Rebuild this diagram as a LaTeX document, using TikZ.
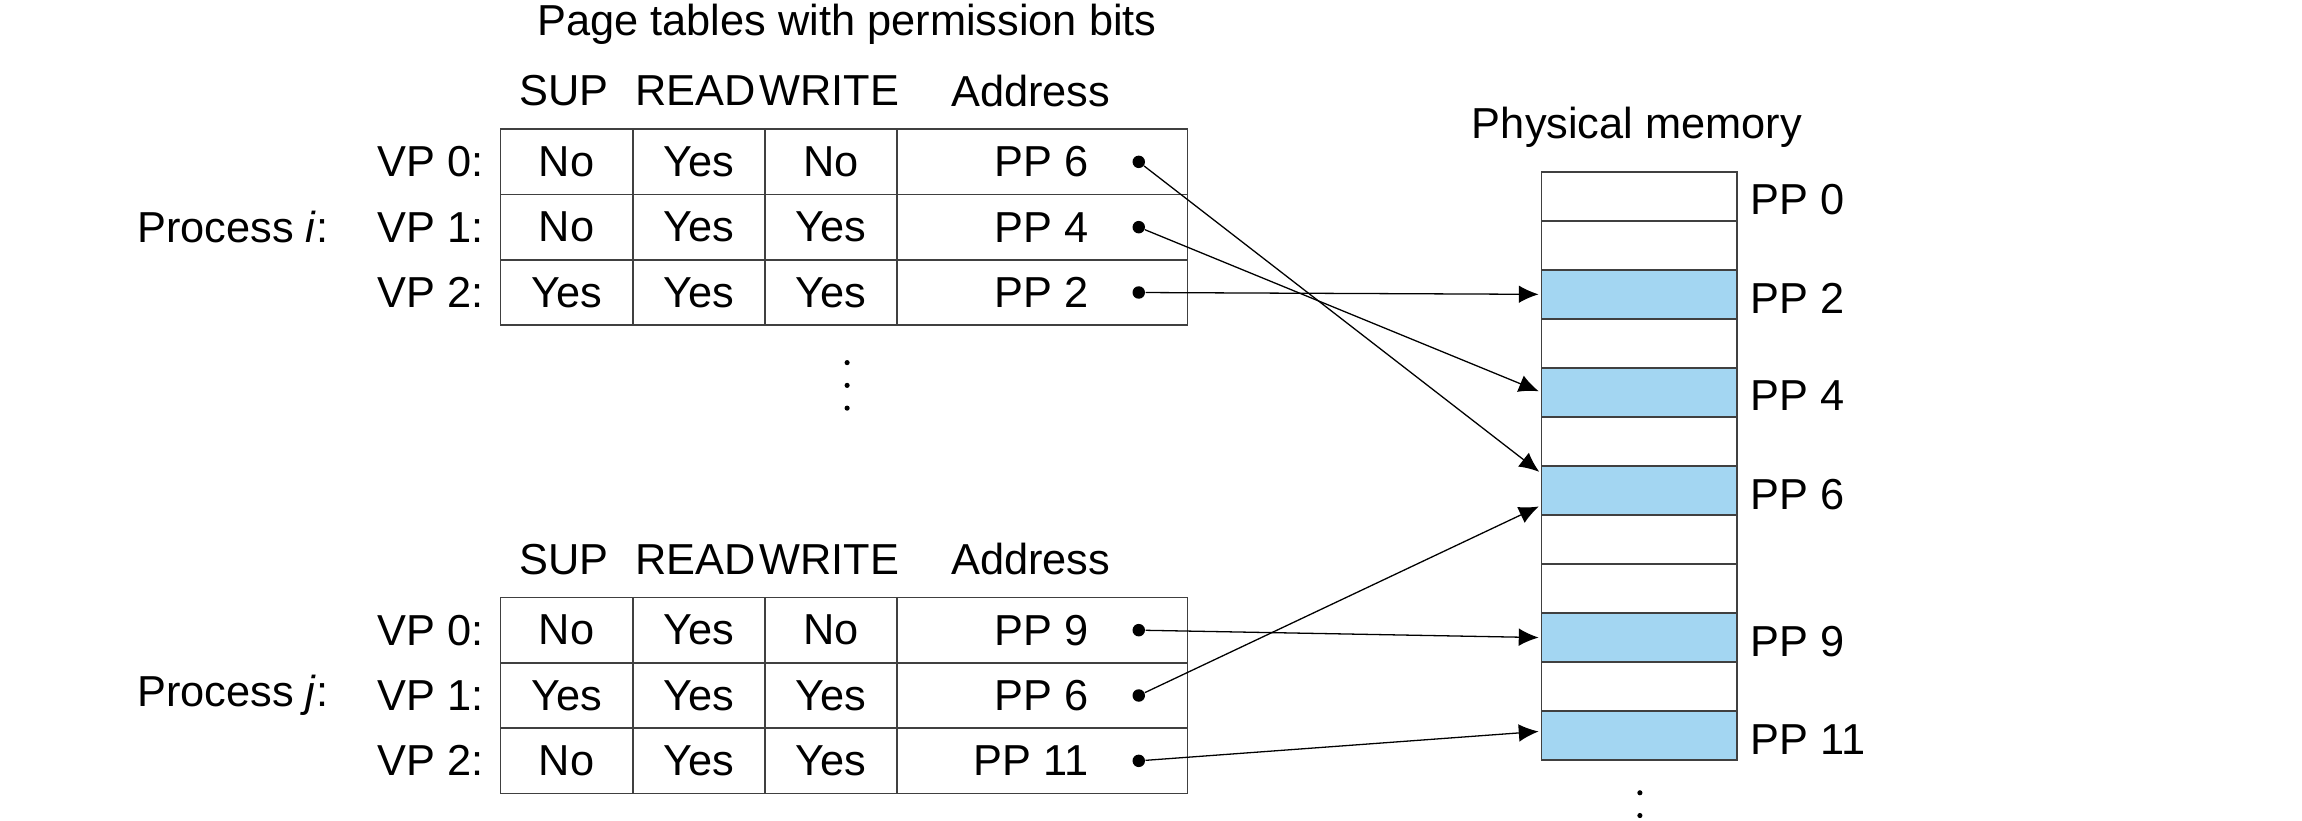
\documentclass[tikz,border=0pt]{standalone}
\usepackage{fontspec}
\setmainfont{Liberation Sans}
\usetikzlibrary{positioning}
\usetikzlibrary{arrows.meta}
\usetikzlibrary{calc}
\definecolor{pageblue}{RGB}{163,214,242}

\begin{document}
\begin{tikzpicture}
        \tikzset{
          >={Latex[length=0.27cm,width=0.24cm]},
          font=\fontsize{16.8pt}{20pt}\selectfont,
          node distance=0pt,
          txt/.style={inner sep=0pt},
          cell/.style={
            draw=black!75,
            line width=0.6pt,
            minimum height=0.89cm,
            inner sep=0pt,
            outer sep=0pt,
          },
          flag/.style={cell, minimum width=1.8cm},
          addr/.style={cell, minimum width=3.96cm},
          frame/.style={
            draw=black!75,
            line width=0.6pt,
            minimum width=2.66cm,
            minimum height=0.668cm,
            inner sep=0pt,
            outer sep=0pt,
          },
          used/.style={frame, fill=pageblue},
          dot/.style={circle, fill=black, inner sep=0pt, minimum size=0.17cm},
          gap/.style={circle, fill=black, inner sep=0pt, minimum size=0.07cm},
          map/.style={->, line width=0.5pt, shorten >=0.04cm},
        }
        \useasboundingbox (0,0) rectangle (31.36,11.18);

        \node[txt] (title) at (11.54,10.85) {Page tables with permission bits};

        % process i
        \node[txt] (hi1) at (7.68,9.94) {SUP};
        \node[txt] (hi2) at (9.48,9.94) {READ};
        \node[txt] (hi3) at (11.30,9.94) {WRITE};
        \node[txt] (hi4) at (14.04,9.94) {Address};

        \node[flag] (i0s) at (7.72,8.975) {No};
        \node[flag, right=of i0s] (i0r) {Yes};
        \node[flag, right=of i0r] (i0w) {No};
        \node[addr, right=of i0w] (i0a) {};
        \node[flag, below=of i0s] (i1s) {No};
        \node[flag, right=of i1s] (i1r) {Yes};
        \node[flag, right=of i1r] (i1w) {Yes};
        \node[addr, right=of i1w] (i1a) {};
        \node[flag, below=of i1s] (i2s) {Yes};
        \node[flag, right=of i2s] (i2r) {Yes};
        \node[flag, right=of i2r] (i2w) {Yes};
        \node[addr, right=of i2w] (i2a) {};

        \node[txt, left=1.34cm of i0a.east] (i0p) {PP 6};
        \node[txt, left=1.34cm of i1a.east] (i1p) {PP 4};
        \node[txt, left=1.34cm of i2a.east] (i2p) {PP 2};
        \node[dot, left=0.575cm of i0a.east] (i0d) {};
        \node[dot, left=0.575cm of i1a.east] (i1d) {};
        \node[dot, left=0.575cm of i2a.east] (i2d) {};

        \node[txt, left=0.22cm of i0s] (i0v) {VP 0:};
        \node[txt, left=0.22cm of i1s] (i1v) {VP 1:};
        \node[txt, left=0.22cm of i2s] (i2v) {VP 2:};
        \node[txt, left=0.66cm of i1v] (pi) {Process \textit{i}:};

        \node[gap] (g1) at (11.54,6.24) {};
        \node[gap] (g2) at (11.54,5.93) {};
        \node[gap] (g3) at (11.54,5.62) {};

        % process j
        \node[txt] (hj1) at (7.68,3.56) {SUP};
        \node[txt] (hj2) at (9.48,3.56) {READ};
        \node[txt] (hj3) at (11.30,3.56) {WRITE};
        \node[txt] (hj4) at (14.04,3.56) {Address};

        \node[flag] (j0s) at (7.72,2.595) {No};
        \node[flag, right=of j0s] (j0r) {Yes};
        \node[flag, right=of j0r] (j0w) {No};
        \node[addr, right=of j0w] (j0a) {};
        \node[flag, below=of j0s] (j1s) {Yes};
        \node[flag, right=of j1s] (j1r) {Yes};
        \node[flag, right=of j1r] (j1w) {Yes};
        \node[addr, right=of j1w] (j1a) {};
        \node[flag, below=of j1s] (j2s) {No};
        \node[flag, right=of j2s] (j2r) {Yes};
        \node[flag, right=of j2r] (j2w) {Yes};
        \node[addr, right=of j2w] (j2a) {};

        \node[txt, left=1.34cm of j0a.east] (j0p) {PP 9};
        \node[txt, left=1.34cm of j1a.east] (j1p) {PP 6};
        \node[txt, left=1.34cm of j2a.east] (j2p) {PP 11};
        \node[dot, left=0.575cm of j0a.east] (j0d) {};
        \node[dot, left=0.575cm of j1a.east] (j1d) {};
        \node[dot, left=0.575cm of j2a.east] (j2d) {};

        \node[txt, left=0.22cm of j0s] (j0v) {VP 0:};
        \node[txt, left=0.22cm of j1s] (j1v) {VP 1:};
        \node[txt, left=0.22cm of j2s] (j2v) {VP 2:};
        \node[txt, left=0.66cm of j1v] (pj) {Process \textit{j}:};

        % physical memory
        \node[txt] (phys) at (22.3,9.45) {Physical memory};
        \node[frame] (m0) at (22.33,8.506) {};
        \node[frame, below=of m0] (m1) {};
        \node[used, below=of m1] (m2) {};
        \node[frame, below=of m2] (m3) {};
        \node[used, below=of m3] (m4) {};
        \node[frame, below=of m4] (m5) {};
        \node[used, below=of m5] (m6) {};
        \node[frame, below=of m6] (m7) {};
        \node[frame, below=of m7] (m8) {};
        \node[used, below=of m8] (m9) {};
        \node[frame, below=of m9] (m10) {};
        \node[used, below=of m10] (m11) {};

        \node[txt, right=0.18cm of m0, yshift=-0.05cm] (pp0) {PP 0};
        \node[txt, right=0.18cm of m2, yshift=-0.05cm] (pp2) {PP 2};
        \node[txt, right=0.18cm of m4, yshift=-0.05cm] (pp4) {PP 4};
        \node[txt, right=0.18cm of m6, yshift=-0.05cm] (pp6) {PP 6};
        \node[txt, right=0.18cm of m9, yshift=-0.05cm] (pp9) {PP 9};
        \node[txt, right=0.18cm of m11, yshift=-0.05cm] (pp11) {PP 11};

        \node[gap] (e1) at (22.34,0.38) {};
        \node[gap] (e2) at (22.34,0.07) {};

        \coordinate (m6up) at ($(m6.west)+(0,0.23)$);
        \coordinate (m6dn) at ($(m6.west)+(0,-0.2)$);
        \coordinate (m11up) at ($(m11.west)+(0,0.06)$);

        \draw[map] (i0d) -- (m6up);
        \draw[map] (i1d) -- (m4.west);
        \draw[map] (i2d) -- (m2.west);
        \draw[map] (j0d) -- (m9.west);
        \draw[map] (j1d) -- (m6dn);
        \draw[map] (j2d) -- (m11up);
      \end{tikzpicture}
\end{document}
